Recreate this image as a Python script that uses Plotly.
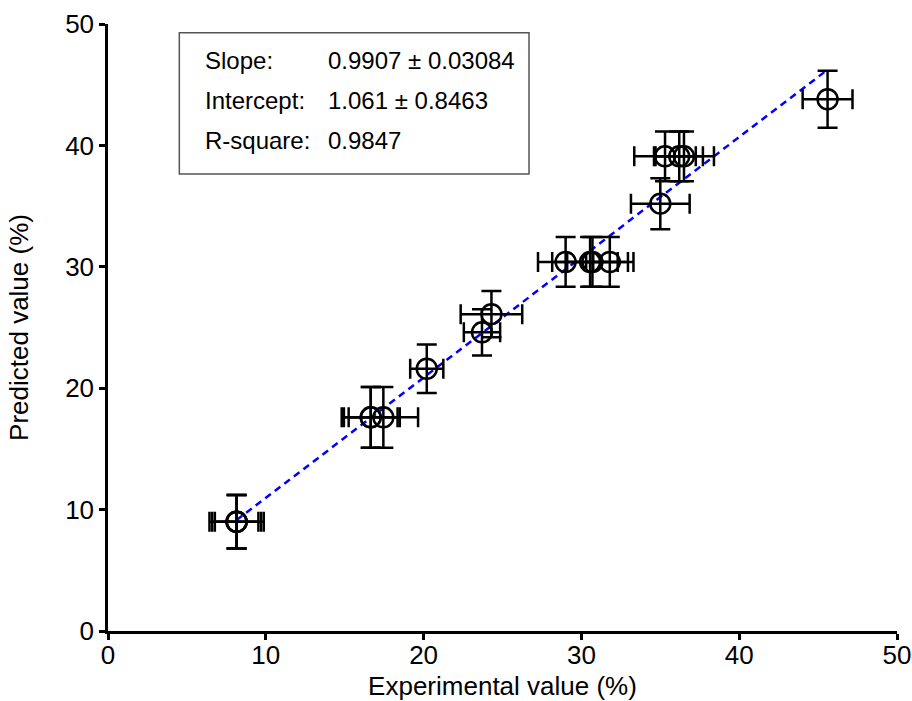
import plotly.graph_objects as go

# Data
experimental = [8.15, 8.15, 8.15, 16.65, 16.65, 17.45, 20.2, 23.7, 24.3, 29.0, 30.55, 30.7, 31.8, 35.0, 35.3, 36.2, 36.5, 45.6]
predicted = [9.0, 9.0, 9.0, 17.6, 17.6, 17.6, 21.6, 24.6, 26.1, 30.4, 30.4, 30.4, 30.4, 35.2, 39.1, 39.1, 39.1, 43.8]
experimental_err = [1.72, 1.55, 1.38, 1.84, 1.7, 2.2, 1.05, 1.15, 1.95, 1.75, 2.4, 1.6, 1.5, 1.86, 1.95, 1.5, 1.9, 1.58]
predicted_err = [2.2, 2.2, 2.2, 2.5, 2.5, 2.5, 2.0, 1.9, 1.9, 2.05, 2.05, 2.05, 2.05, 2.1, 2.05, 2.05, 2.05, 2.35]

slope = 0.9907
slope_se = 0.03084
intercept = 1.061
intercept_se = 0.8463
r_square = 0.9847

stat_labels = ["Slope:", "Intercept:", "R-square:"]
stat_values = [f"{slope} ± {slope_se}", f"{intercept} ± {intercept_se}", f"{r_square}"]

FONT = "Liberation Sans, Arial, sans-serif"

fig = go.Figure()

line_x = [min(experimental), max(experimental)]
line_y = [slope * v + intercept for v in line_x]
fig.add_trace(go.Scatter(
    x=line_x, y=line_y, mode="lines",
    line=dict(color="#0000ff", width=2.5, dash="7px,5px"),
    showlegend=False, hoverinfo="skip",
))

fig.add_trace(go.Scatter(
    x=experimental, y=predicted, mode="markers",
    marker=dict(symbol="circle-open", size=20, color="black", line=dict(width=2.5, color="black")),
    error_x=dict(type="data", array=experimental_err, color="black", thickness=2.5, width=10),
    error_y=dict(type="data", array=predicted_err, color="black", thickness=2.5, width=10),
    showlegend=False,
))

# Statistics box
fig.add_shape(type="rect", xref="x", yref="y", x0=4.52, x1=26.68, y0=37.64, y1=49.28,
              line=dict(color="#555555", width=1.5), fillcolor="rgba(0,0,0,0)", layer="above")
row_y = [47.03, 43.74, 40.44]
for lab, val, yy in zip(stat_labels, stat_values, row_y):
    fig.add_annotation(x=6.0, y=yy, xref="x", yref="y", text=lab, showarrow=False,
                       xanchor="left", yanchor="middle", font=dict(family=FONT, size=24, color="black"))
    fig.add_annotation(x=13.8, y=yy, xref="x", yref="y", text=val, showarrow=False,
                       xanchor="left", yanchor="middle", font=dict(family=FONT, size=24, color="black"))

axis_common = dict(
    showline=True, linewidth=2.5, linecolor="black", showgrid=False, zeroline=False,
    ticks="outside", ticklen=6, tickwidth=2.5, tickcolor="black",
    tickfont=dict(family=FONT, size=26, color="black"),
    range=[0, 50], tick0=0, dtick=10, mirror=False, automargin=False,
)

fig.update_layout(
    width=912, height=701,
    margin=dict(l=108, r=15, t=24, b=70),
    paper_bgcolor="white", plot_bgcolor="white",
    xaxis=dict(**axis_common, ticklabelstandoff=-7,
               title=dict(text="Experimental value (%)", font=dict(family=FONT, size=26, color="black"), standoff=12)),
    yaxis=dict(**axis_common, title=dict(text="Predicted value (%)", font=dict(family=FONT, size=26, color="black"), standoff=30)),
)

fig.write_html("out.html", config={"displayModeBar": False},
               post_script="document.body.style.margin='0';")
